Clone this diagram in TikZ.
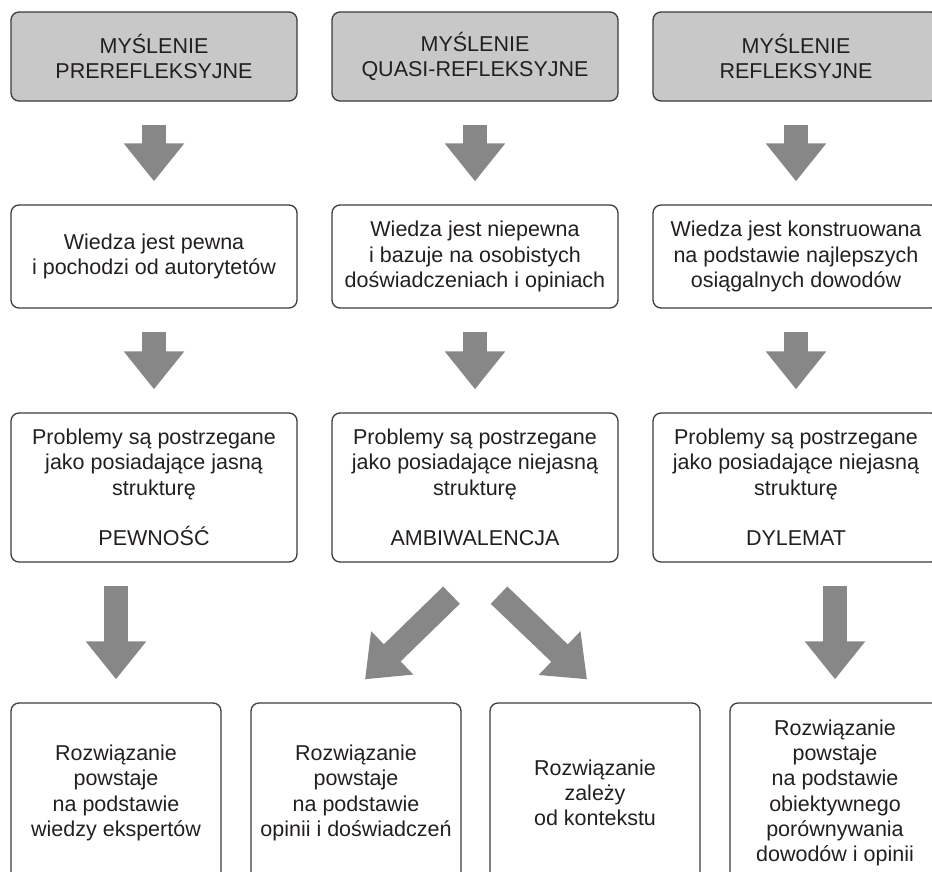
\documentclass[tikz,border=0pt]{standalone}
\usepackage{fontspec}
\setmainfont{Liberation Sans}
\usetikzlibrary{arrows.meta,calc}
\definecolor{boxgray}{HTML}{C8C8C8}
\definecolor{arrgray}{HTML}{878787}
\definecolor{edge}{HTML}{3C3C3C}
\definecolor{ink}{HTML}{231F20}

\begin{document}
\begin{tikzpicture}[x=1pt,y=-1pt,
 box/.style={draw=edge,line width=1.3pt,rounded corners=8pt,align=center,text=ink,inner sep=0pt,font=\fontsize{21.5}{25.3}\selectfont},
 head/.style={box,fill=boxgray,minimum width=286pt,minimum height=89pt},
 wide/.style={box,minimum width=286pt},
 sol/.style={box,minimum width=210pt,minimum height=180pt},
 big/.style={draw=arrgray,line width=24pt,-{Triangle[width=58pt,length=38pt]}},
 gap/.style={shorten <=23pt,shorten >=23pt}]
\clip(0,0)rectangle(932,871);
% rows of boxes
\node[head](pre)at(154,56.5){MYŚLENIE\\PREREFLEKSYJNE};
\node[head](qua)at(475,56.5){MYŚLENIE\\QUASI-REFLEKSYJNE};
\node[head](ref)at(796,56.5){MYŚLENIE\\REFLEKSYJNE};
\node[wide,minimum height=103pt](wpre)at(154,256.5){Wiedza jest pewna\\i pochodzi od autorytetów};
\node[wide,minimum height=103pt](wqua)at(475,256.5){Wiedza jest niepewna\\i bazuje na osobistych\\doświadczeniach i opiniach};
\node[wide,minimum height=103pt](wref)at(796,256.5){Wiedza jest konstruowana\\na podstawie najlepszych\\osiągalnych dowodów};
\node[wide,minimum height=149pt](pew)at(154,487.5){Problemy są postrzegane\\jako posiadające jasną\\strukturę\\[25.3pt]PEWNOŚĆ};
\node[wide,minimum height=149pt](amb)at(475,487.5){Problemy są postrzegane\\jako posiadające niejasną\\strukturę\\[25.3pt]AMBIWALENCJA};
\node[wide,minimum height=149pt](dyl)at(796,487.5){Problemy są postrzegane\\jako posiadające niejasną\\strukturę\\[25.3pt]DYLEMAT};
\node[sol](eks)at(116,793){Rozwiązanie\\powstaje\\na podstawie\\wiedzy ekspertów};
\node[sol](opi)at(356,793){Rozwiązanie\\powstaje\\na podstawie\\opinii i doświadczeń};
\node[sol](ctx)at(595,793){Rozwiązanie\\zależy\\od kontekstu};
\node[sol](obj)at(835,793){Rozwiązanie\\powstaje\\na podstawie\\obiektywnego\\porównywania\\dowodów i opinii};
% arrows
\draw[big,gap](pre)--(wpre);\draw[big,gap](qua)--(wqua);\draw[big,gap](ref)--(wref);
\draw[big,gap](wpre)--(pew);\draw[big,gap](wqua)--(amb);\draw[big,gap](wref)--(dyl);
\draw[big,gap](pew.south-|eks.north)--(eks.north);\draw[big,gap](dyl.south-|obj.north)--(obj.north);
\coordinate(al)at($(amb.south)+(-23.5,32.5)$);\coordinate(bl)at($(opi.north)+(9,-23)$);
\coordinate(ar)at($(amb.south)+(24,32.5)$);\coordinate(br)at($(ctx.north)+(-8,-23)$);
\draw[big](al)--(bl);\draw[big](ar)--(br);
\end{tikzpicture}
\end{document}
